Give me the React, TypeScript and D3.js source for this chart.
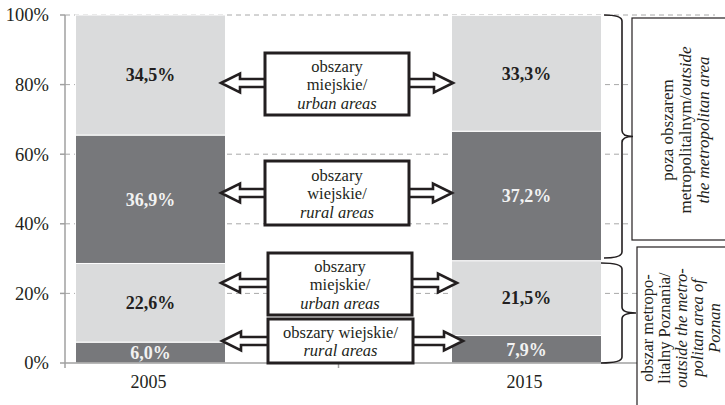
import React from "react";
import * as d3 from "d3";

const categories = ["2005", "2015"];
const ruralMetro = [6.0, 7.9];
const urbanMetro = [22.6, 21.5];
const ruralOutside = [36.9, 37.2];
const urbanOutside = [34.5, 33.3];
const seriesKeys = ["ruralMetro", "urbanMetro", "ruralOutside", "urbanOutside"];
const seriesDark = [true, false, true, false];
const yTicks = [0, 20, 40, 60, 80, 100];

const arrowBoxLines = [
  [["obszary", false], ["miejskie/", false], ["urban areas", true]],
  [["obszary", false], ["wiejskie/", false], ["rural areas", true]],
  [["obszary", false], ["miejskie/", false], ["urban areas", true]],
  [["obszary wiejskie/", false], ["rural areas", true]],
];
const outsideLines = [
  [["poza obszarem", false]],
  [["metropolitalnym/", false], ["outside", true]],
  [["the metropolitan area", true]],
];
const metroLines = [
  [["obszar metropo-", false]],
  [["litalny Poznania/", false]],
  [["outside the metro-", true]],
  [["politan area of", true]],
  [["Poznan", true]],
];

// layout (pixels)
const W = 725, H = 405;
const boxes = [
  { x: 265, y: 53, w: 144, h: 62, ay: 83, lx: 221, rx: 453 },
  { x: 265, y: 161, w: 144, h: 64, ay: 193, lx: 221, rx: 452 },
  { x: 268, y: 253, w: 144, h: 62, ay: 283, lx: 221, rx: 457 },
  { x: 268, y: 319, w: 145, h: 44, ay: 341, lx: 222, rx: 463 },
];

const FONT = "'Liberation Serif', 'Times New Roman', serif";

function bracePath(xv: number, y1: number, y2: number, xEnd: number, xTip: number) {
  const ym = (y1 + y2) / 2;
  const r = 6;
  return `M${xEnd},${y1} Q${xv},${y1} ${xv},${y1 + r} L${xv},${ym - r} Q${xv},${ym} ${xTip},${ym} Q${xv},${ym} ${xv},${ym + r} L${xv},${y2 - r} Q${xv},${y2} ${xEnd},${y2}`;
}

function arrowPoints(tip: number, base: number, cy: number) {
  const dir = base > tip ? 1 : -1;
  const hl = 19, hh = 9.5, sh = 4;
  const hx = tip + dir * hl;
  return [
    [tip, cy], [hx, cy - hh], [hx, cy - sh], [base, cy - sh],
    [base, cy + sh], [hx, cy + sh], [hx, cy + hh],
  ].map((p) => p.join(",")).join(" ");
}

export default function App() {
  const y = d3.scaleLinear().domain([0, 100]).range([363, 15]);
  const x = d3.scalePoint<string>().domain(categories).range([150.5, 526.5]);
  const barW = 150;
  const rows = categories.map((c, i) => ({
    cat: c,
    ruralMetro: ruralMetro[i],
    urbanMetro: urbanMetro[i],
    ruralOutside: ruralOutside[i],
    urbanOutside: urbanOutside[i],
  }));
  const stack = d3.stack<any>().keys(seriesKeys)(rows);
  const fmt = (v: number) => v.toFixed(1).replace(".", ",") + "%";
  const axisX0 = 65, axisX1 = 715;

  return (
    <svg width={W} height={H} style={{ position: "absolute", left: 0, top: 0, background: "#fff" }} fontFamily={FONT}>
      {/* gridlines */}
      {yTicks.filter((t) => t > 0).map((t) => (
        <line key={t} x1={axisX0} x2={axisX1} y1={y(t)} y2={y(t)} stroke="#a8a8a8" strokeWidth={1} strokeDasharray="5,4" />
      ))}
      {/* bars */}
      {stack.map((s, si) =>
        s.map((d: any, i: number) => {
          const cx = x(categories[i])!;
          const y0 = y(d[0]), y1 = y(d[1]);
          return (
            <g key={`${si}-${i}`}>
              <rect x={cx - barW / 2} y={y1} width={barW} height={y0 - y1}
                fill={seriesDark[si] ? "#77787b" : "#dadbdc"} stroke="#ffffff" strokeWidth={1} />
              <text x={cx} y={(y0 + y1) / 2} dy="0.35em" textAnchor="middle" fontWeight="bold" fontSize={18}
                fill={seriesDark[si] ? "#f2f2f2" : "#231f20"}>
                {fmt(d[1] - d[0])}
              </text>
            </g>
          );
        })
      )}
      {/* y axis */}
      <line x1={axisX0} x2={axisX0} y1={y(100)} y2={y(0)} stroke="#a0a0a0" strokeWidth={1.5} />
      {yTicks.map((t) => (
        <g key={t}>
          <line x1={axisX0 - 5} x2={axisX0} y1={y(t)} y2={y(t)} stroke="#a0a0a0" strokeWidth={1.5} />
          <text x={49} y={y(t)} dy="0.35em" textAnchor="end" fontSize={18.5} fill="#231f20">{t}%</text>
        </g>
      ))}
      {/* x axis */}
      <line x1={axisX0} x2={axisX1} y1={y(0)} y2={y(0)} stroke="#a0a0a0" strokeWidth={1.5} />
      {[axisX0, (x(categories[0])! + x(categories[1])!) / 2].map((tx, i) => (
        <line key={i} x1={tx} x2={tx} y1={y(0)} y2={y(0) + 5} stroke="#a0a0a0" strokeWidth={1.5} />
      ))}
      {categories.map((c) => (
        <text key={c} x={x(c)! - 2} y={388} textAnchor="middle" fontSize={18} fill="#231f20">{c}</text>
      ))}
      {/* right boxes */}
      <rect x={632} y={18} width={120} height={222} fill="#fff" stroke="#231f20" strokeWidth={1.2} />
      <rect x={637} y={247} width={120} height={200} fill="#fff" stroke="#231f20" strokeWidth={1.2} />
      <g>
        {outsideLines.map((ln, i) => (
          <text key={i} transform={`translate(${673 + i * 18},130) rotate(-90)`} textAnchor="middle" fontSize={17} fill="#231f20">
            {ln.map(([t, it], j) => (
              <tspan key={j} fontStyle={it ? "italic" : "normal"}>{t as string}</tspan>
            ))}
          </text>
        ))}
        {metroLines.map((ln, i) => (
          <text key={i} transform={`translate(${653 + i * 16.8},328) rotate(-90)`} textAnchor="middle" fontSize={16.5} fill="#231f20">
            {ln.map(([t, it], j) => (
              <tspan key={j} fontStyle={it ? "italic" : "normal"}>{t as string}</tspan>
            ))}
          </text>
        ))}
      </g>
      {/* braces */}
      <path d={bracePath(622, 15, 258, 604, 633)} fill="none" stroke="#231f20" strokeWidth={1.6} />
      <path d={bracePath(622, 263, 363, 601, 636)} fill="none" stroke="#231f20" strokeWidth={1.6} />
      {/* arrow boxes */}
      {boxes.map((b, i) => (
        <g key={i}>
          <polygon points={arrowPoints(b.lx, b.x + 2, b.ay)} fill="#fff" stroke="#231f20" strokeWidth={2.6} strokeLinejoin="miter" />
          <polygon points={arrowPoints(b.rx, b.x + b.w - 2, b.ay)} fill="#fff" stroke="#231f20" strokeWidth={2.6} strokeLinejoin="miter" />
          <rect x={b.x} y={b.y} width={b.w} height={b.h} fill="#fff" stroke="#231f20" strokeWidth={3} />
          {arrowBoxLines[i].map(([t, it], j) => {
            const n = arrowBoxLines[i].length;
            const cy = b.y + b.h / 2;
            const by = cy + 6 + (j - (n - 1) / 2) * 18.5;
            return (
              <text key={j} x={b.x + b.w / 2} y={by} textAnchor="middle" fontSize={16.5}
                fontStyle={it ? "italic" : "normal"} fill="#231f20">{t as string}</text>
            );
          })}
        </g>
      ))}
    </svg>
  );
}
